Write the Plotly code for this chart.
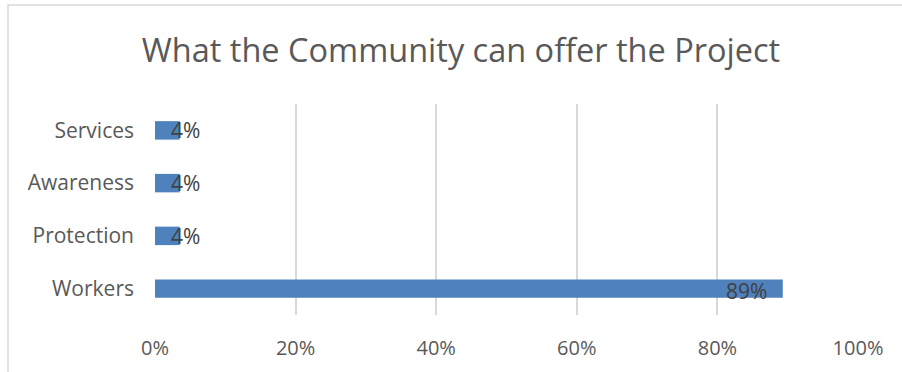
import plotly.graph_objects as go

categories = ["Workers", "Protection", "Awareness", "Services"]
values = [89.3, 3.5, 3.5, 3.5]
labels = ["89%", "4%", "4%", "4%"]
tick_vals = [0, 20, 40, 60, 80, 100]
tick_text = ["0%", "20%", "40%", "60%", "80%", "100%"]

W, H = 902, 372
L, R, T, B = 155, 44, 104, 57
pw, ph = W - L - R, H - T - B

fig = go.Figure()
fig.add_trace(go.Bar(
    y=categories, x=values, orientation="h",
    marker=dict(color="#4f81bd", line=dict(width=0)),
    width=0.35, hoverinfo="skip",
))

for c, v, t in zip(categories, values, labels):
    if v > 10:
        fig.add_annotation(x=v, y=c, text=t, showarrow=False, xanchor="right", xshift=-14,
                           yshift=-2, font=dict(family="Open Sans", size=21, color="#404040"))
    else:
        fig.add_annotation(x=0, y=c, text=t, showarrow=False, xanchor="left", xshift=14,
                           font=dict(family="Open Sans", size=21, color="#404040"))

def px(x):
    return (x - L) / pw

def py(y):
    return 1 - (y - T) / ph

fig.add_shape(type="rect", xref="paper", yref="paper",
              x0=px(8), x1=px(910), y0=py(5), y1=py(380),
              line=dict(color="#d9d9d9", width=1.5), fillcolor="rgba(0,0,0,0)", layer="below")

fig.update_layout(
    width=W, height=H,
    margin=dict(l=L, r=R, t=T, b=B),
    paper_bgcolor="white", plot_bgcolor="white",
    showlegend=False,
    title=dict(text="What the Community can offer the Project", x=(461) / W, xanchor="center",
               y=1 - 51 / H, yanchor="middle",
               font=dict(family="Open Sans", size=32.5, color="#595959")),
    xaxis=dict(range=[0, 100], tickvals=tick_vals, ticktext=tick_text,
               showgrid=True, gridcolor="#d9d9d9", gridwidth=1.5, zeroline=False,
               showline=False, ticks="", ticklabelstandoff=19,
               tickfont=dict(family="Open Sans", size=20, color="#595959"), fixedrange=True),
    yaxis=dict(categoryorder="array", categoryarray=categories, showgrid=False,
               zeroline=False, showline=False, ticks="", ticklabelstandoff=20,
               tickfont=dict(family="Open Sans", size=21, color="#595959"), fixedrange=True),
    bargap=0.65,
)

fig.write_html("out.html", config={"displayModeBar": False})
